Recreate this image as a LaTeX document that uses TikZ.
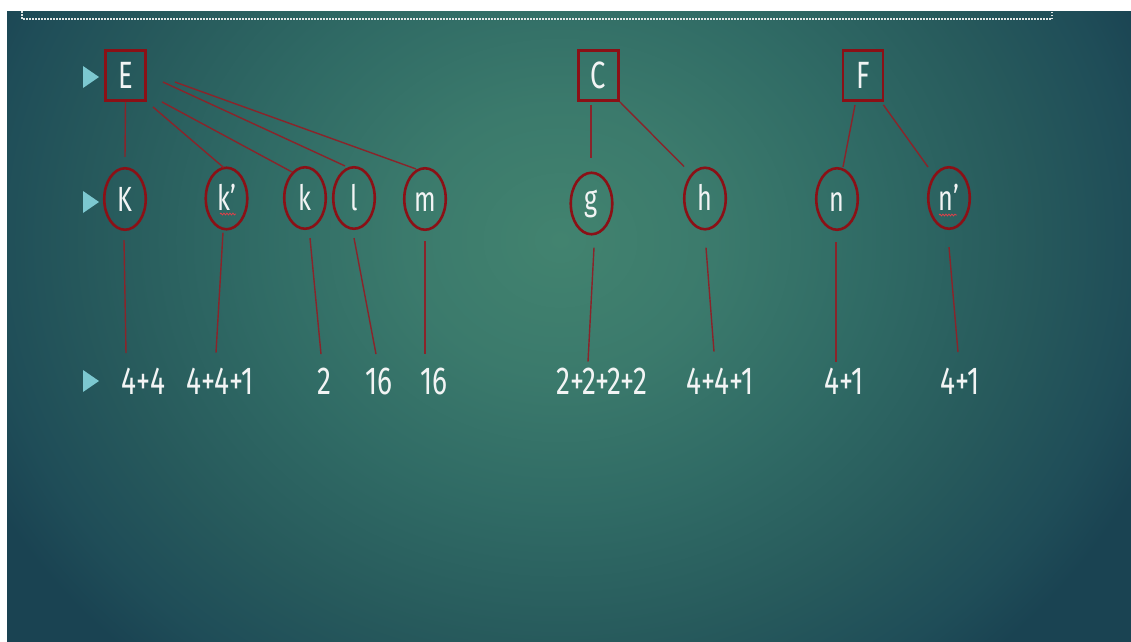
\documentclass[tikz,border=0pt]{standalone}
\usepackage{fontspec}
\setmainfont{Fira Sans}[FakeStretch=0.72]
\usetikzlibrary{shapes.geometric,calc,decorations.pathmorphing}

\definecolor{bgA}{HTML}{42836F}
\definecolor{bgB}{HTML}{3B7A6C}
\definecolor{bgC}{HTML}{306B65}
\definecolor{bgD}{HTML}{275A5C}
\definecolor{bgE}{HTML}{1F4D58}
\definecolor{bgF}{HTML}{1A4352}
\definecolor{boxred}{RGB}{139,16,22}
\definecolor{linered}{RGB}{138,36,42}
\definecolor{txtwhite}{RGB}{242,244,244}
\definecolor{bulletc}{RGB}{124,200,208}
\definecolor{dotc}{RGB}{225,230,230}
\definecolor{squigc}{RGB}{224,64,74}

% the middle 50bp square of a shading is fitted to the path
\pgfdeclareradialshading{slidebg}{\pgfpoint{0bp}{0bp}}{%
  color(0bp)=(bgA); color(6bp)=(bgB); color(12bp)=(bgC);
  color(18bp)=(bgD); color(22.5bp)=(bgE); color(25bp)=(bgF); color(50bp)=(bgF)}

\begin{document}
\begin{tikzpicture}[x=1pt,y=-1pt,
  parentbox/.style={draw=boxred, line width=2.8pt, rectangle,
    minimum width=40pt, minimum height=50pt, inner sep=0pt,
    text=txtwhite, font=\fontsize{38}{40}\selectfont},
  leaf/.style={draw=boxred, line width=2.6pt, ellipse,
    minimum width=41.5pt, minimum height=61.5pt, inner sep=0pt,
    text=txtwhite, font=\fontsize{35}{40}\selectfont,
    text height=24pt, text depth=0pt},
  valtext/.style={anchor=base, inner sep=0pt, text=txtwhite,
    font=\fontsize{39}{42}\selectfont},
  connector/.style={draw=linered, line width=1.4pt},
  dotborder/.style={draw=dotc, line width=2pt, dash pattern=on 1.5pt off 1.5pt},
  squiggle/.style={draw=squigc, line width=0.8pt,
    decorate, decoration={snake, segment length=3pt, amplitude=0.9pt}},
  bullet/.pic={\fill[bulletc] (-8,-11) -- (8,0) -- (-8,11) -- cycle;}
]
\useasboundingbox (0,0) rectangle (1131,641);
\fill[white] (0,0) rectangle (1131,641);

% slide background with its soft radial glow
\begin{scope}
  \clip (7,11) rectangle (1131,641);
  \shade[shading=slidebg] (-80,-320) rectangle (1200,800);
  \draw[dotborder] (22,5) -- (22,19) -- (1052,19) -- (1052,5);
\end{scope}

% bullets
\pic at (91,77) {bullet};
\pic at (91,202) {bullet};
\pic at (91,381) {bullet};

% parent boxes
\node[parentbox] (E) at (125.5,75.5) {E};
\node[parentbox] (C) at (598.5,75.5) {C};
\node[parentbox] (F) at (863,75.5) {F};

% child ellipses
\node[leaf] (K)  at (125,199)   {K};
\node[leaf] (kp) at (226.5,198.5) {k'};
\node[leaf] (k)  at (305,198)   {k};
\node[leaf] (l)  at (354,198)   {l};
\node[leaf] (m)  at (425,199)   {m};
\node[leaf, text height=13pt] (g) at (591.5,203.5) {g};
\node[leaf] (h)  at (705,198.5) {h};
\node[leaf] (n)  at (837,199)   {n};
\node[leaf] (np) at (949,198)   {n'};

% spelling underlines
\draw[squiggle] ($(kp.center)+(-6.5,15.5)$) -- ++(16,0);
\draw[squiggle] ($(np.center)+(-10,17)$) -- ++(18,0);

% values
\node[valtext] (vK)  at (143.5,394) {4+4};
\node[valtext] (vkp) at (220,394)   {4+4+1};
\node[valtext] (vk)  at (324,394)   {2};
\node[valtext] (vl)  at (379,394)   {16};
\node[valtext] (vm)  at (434,394)   {16};
\node[valtext] (vg)  at (602,394)   {2+2+2+2};
\node[valtext] (vh)  at (720,394)   {4+4+1};
\node[valtext] (vn)  at (844,394)   {4+1};
\node[valtext] (vnp) at (960,394)   {4+1};

% parent to child links
\draw[connector] (E.south) -- ($(K.north)+(0,-10)$);
\draw[connector] ($(E.south east)+(6,5)$) -- ($(kp.north)+(-3,1)$);
\draw[connector] ($(E.south east)+(15,0)$) -- ($(k.center)+(-13,-26)$);
\draw[connector] ($(E.east)+(16,6.5)$) -- ($(l.north)+(-9,0)$);
\draw[connector] ($(E.east)+(28,6.5)$) -- ($(m.north)+(-9,2)$);
\draw[connector] ($(C.south)+(-7.5,3)$) -- ($(g.north)+(-0.5,-13)$);
\draw[connector] (C.south east) -- ($(h.center)+(-21,-32)$);
\draw[connector] ($(F.south)+(-8,3)$) -- ($(n.north)+(6,0)$);
\draw[connector] ($(F.south east)+(-1,3)$) -- ($(np.center)+(-21,-31)$);

% child to value links
\draw[connector] ($(K.south)+(-1,9)$)    -- ($(K.south)+(1,122)$);
\draw[connector] ($(kp.south)+(-3.5,2)$) -- ($(kp.south)+(-10.5,122)$);
\draw[connector] ($(k.south)+(5,8)$)     -- ($(k.south)+(16,124)$);
\draw[connector] ($(l.south)+(0,8)$)     -- ($(l.south)+(22,124)$);
\draw[connector] ($(m.south)+(0,10)$)    -- ($(m.south)+(0,123)$);
\draw[connector] ($(g.south)+(2.5,12)$)  -- ($(g.south)+(-3.5,126)$);
\draw[connector] ($(h.south)+(1,17)$)    -- ($(h.south)+(9,121)$);
\draw[connector] ($(n.south)+(-1,11)$)   -- ($(n.south)+(-1,131)$);
\draw[connector] ($(np.south)+(0,17)$)   -- ($(np.south)+(9,122)$);
\end{tikzpicture}
\end{document}
